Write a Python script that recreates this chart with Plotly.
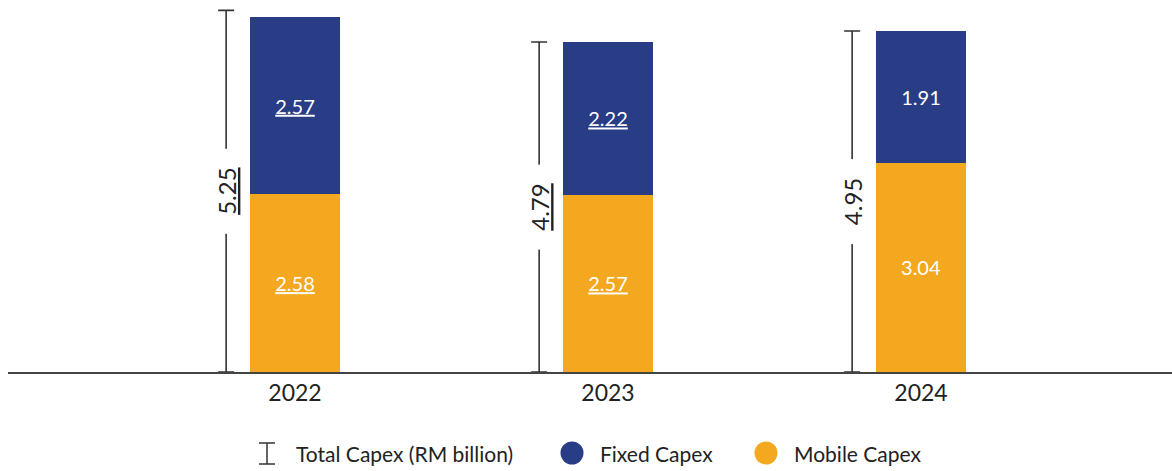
import plotly.graph_objects as go

# Capex breakdown by year (RM billion)
years = ["2022", "2023", "2024"]
mobile_capex = [2.58, 2.57, 3.04]
fixed_capex = [2.57, 2.22, 1.91]
total_capex = [5.25, 4.79, 4.95]
underlined = [True, True, False]

NAVY = "#293C86"
ORANGE = "#F4A81F"
INK = "#222222"
FONT = "Lato"

W, H = 1172, 471
ML, MR, MT, MB = 8, 0, 0, 99

x_idx = list(range(len(years)))
bracket_offset = 0.22


def fmt(v, u):
    s = f"{v:.2f}"
    return f"<u>{s}</u>" if u else s


fig = go.Figure()

fig.add_trace(go.Bar(
    x=x_idx, y=mobile_capex, name="Mobile Capex",
    marker=dict(color=ORANGE, line=dict(width=0)),
    text=[fmt(v, u) for v, u in zip(mobile_capex, underlined)],
    textposition="inside", insidetextanchor="middle", textangle=0,
    textfont=dict(family=FONT, size=20, color="white"),
    width=0.29, showlegend=False, hoverinfo="skip",
))
fig.add_trace(go.Bar(
    x=x_idx, y=fixed_capex, name="Fixed Capex",
    marker=dict(color=NAVY, line=dict(width=0)),
    text=[fmt(v, u) for v, u in zip(fixed_capex, underlined)],
    textposition="inside", insidetextanchor="middle", textangle=0,
    textfont=dict(family=FONT, size=20, color="white"),
    width=0.29, showlegend=False, hoverinfo="skip",
))

# Total capex brackets drawn as symmetric error bars around the midpoint
bx = [i - bracket_offset for i in x_idx]
fig.add_trace(go.Scatter(
    x=bx, y=[t / 2 for t in total_capex], mode="markers",
    marker=dict(size=1, color="rgba(0,0,0,0)"),
    error_y=dict(type="data", array=[t / 2 for t in total_capex],
                 symmetric=True, width=8, thickness=1.6, color="#333333"),
    showlegend=False, hoverinfo="skip",
))

annotations = []
pad = "&nbsp;" * 3
for xi, t, u in zip(bx, total_capex, underlined):
    annotations.append(dict(
        x=xi, y=t / 2, xref="x", yref="y",
        text=pad + fmt(t, u) + pad, textangle=-90, showarrow=False,
        font=dict(family=FONT, size=24, color=INK),
        bgcolor="white", borderpad=0,
    ))

# Legend row built below the plot area
plot_w = W - ML - MR
plot_h = H - MT - MB


def px_x(px):
    return (px - ML) / plot_w


def px_y(py):
    return (H - MB - py) / plot_h


leg_y = 453
shapes = [
    # I-beam symbol for the total bracket
    dict(type="line", xref="paper", yref="paper",
         x0=px_x(267), x1=px_x(267), y0=px_y(443), y1=px_y(464),
         line=dict(color="#333333", width=1.5)),
    dict(type="line", xref="paper", yref="paper",
         x0=px_x(259), x1=px_x(275), y0=px_y(443), y1=px_y(443),
         line=dict(color="#333333", width=1.5)),
    dict(type="line", xref="paper", yref="paper",
         x0=px_x(259), x1=px_x(275), y0=px_y(464), y1=px_y(464),
         line=dict(color="#333333", width=1.5)),
]
for cx, col in [(572, NAVY), (766, ORANGE)]:
    shapes.append(dict(
        type="circle", xref="paper", yref="paper",
        xsizemode="pixel", ysizemode="pixel",
        xanchor=px_x(cx), yanchor=px_y(leg_y),
        x0=-11.5, x1=11.5, y0=-11.5, y1=11.5,
        fillcolor=col, line=dict(width=0),
    ))

for lx, label in [(294, "Total Capex (RM billion)"), (598, "Fixed Capex"),
                  (792, "Mobile Capex")]:
    annotations.append(dict(
        x=px_x(lx), y=px_y(leg_y), xref="paper", yref="paper",
        xanchor="left", yanchor="middle", text=label, showarrow=False,
        font=dict(family=FONT, size=21, color=INK),
    ))

fig.update_layout(
    width=W, height=H,
    margin=dict(l=ML, r=MR, t=MT, b=MB),
    paper_bgcolor="white", plot_bgcolor="white",
    barmode="stack", showlegend=False,
    annotations=annotations, shapes=shapes,
    font=dict(family=FONT, color=INK),
    xaxis=dict(
        range=[-287 / 313, (plot_w - 287) / 313],
        tickvals=x_idx, ticktext=years, ticks="",
        tickfont=dict(family=FONT, size=23, color=INK),
        showline=True, linecolor="#444444", linewidth=1.5,
        showgrid=False, zeroline=False, fixedrange=True,
    ),
    yaxis=dict(range=[0, 5.4], visible=False, showgrid=False,
               zeroline=False, fixedrange=True),
)

fig.write_html("out.html")
